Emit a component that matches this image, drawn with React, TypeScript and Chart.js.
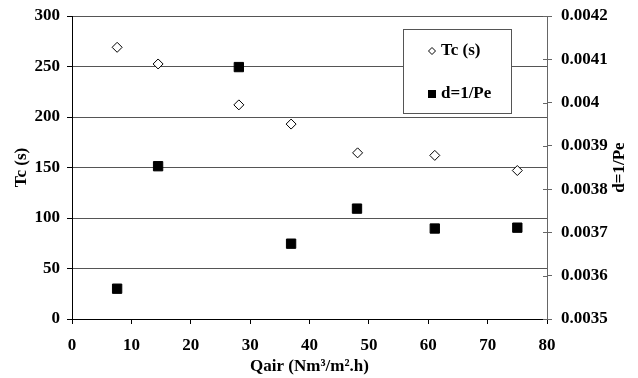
import React, { useEffect, useRef } from "react";
import { Chart, registerables } from "chart.js";

Chart.register(...registerables);

const qair = [7.6, 14.5, 28.1, 36.9, 48.1, 61.1, 75.0];
const tcValues = [269, 252.5, 212, 193, 164.5, 162, 147];
const qairD = [7.6, 14.5, 28.1, 36.9, 48.0, 61.1, 75.0];
const dValues = [0.00357, 0.003853, 0.004082, 0.003674, 0.003755, 0.003709, 0.003711];
const xTicks = [0, 10, 20, 30, 40, 50, 60, 70, 80];
const leftTicks = [0, 50, 100, 150, 200, 250, 300];
const rightTicks = [0.0035, 0.0036, 0.0037, 0.0038, 0.0039, 0.004, 0.0041, 0.0042];
const seriesNames = ["Tc (s)", "d=1/Pe"];
const xTitle = "Qair (Nm³/m².h)";
const leftTitle = "Tc (s)";
const rightTitle = "d=1/Pe";

const FONT_FAMILY = "'Liberation Serif', 'Times New Roman', serif";
const FONT_SIZE = 17;

const overlayPlugin = {
  id: "overlay",
  afterDraw(chart: any) {
    const ctx = chart.ctx;
    const area = chart.chartArea;
    const y2 = chart.scales.y2;
    ctx.save();
    // inner right ticks
    ctx.strokeStyle = "#666";
    ctx.lineWidth = 1;
    y2.ticks.forEach((t: any) => {
      const yy = Math.round(y2.getPixelForValue(t.value)) + 0.5;
      ctx.beginPath();
      ctx.moveTo(area.right - 4, yy);
      ctx.lineTo(area.right, yy);
      ctx.stroke();
    });
    // titles
    ctx.fillStyle = "#000";
    ctx.font = `bold ${FONT_SIZE}px ${FONT_FAMILY}`;
    ctx.textAlign = "center";
    ctx.textBaseline = "middle";
    const cy = (area.top + area.bottom) / 2;
    ctx.save();
    ctx.translate(22, cy);
    ctx.rotate(-Math.PI / 2);
    ctx.fillText(leftTitle, 0, 0);
    ctx.restore();
    ctx.save();
    ctx.translate(620, cy);
    ctx.rotate(-Math.PI / 2);
    ctx.fillText(rightTitle, 0, 0);
    ctx.restore();
    ctx.fillText(xTitle, (area.left + area.right) / 2, 367);

    // legend box
    const bx = 403.5, by = 29.5, bw = 108, bh = 84;
    ctx.fillStyle = "#fff";
    ctx.fillRect(bx, by, bw, bh);
    ctx.strokeStyle = "#555";
    ctx.strokeRect(bx, by, bw, bh);
    // diamond
    const dx = 432, dy = 51;
    ctx.beginPath();
    ctx.moveTo(dx - 3.5, dy);
    ctx.lineTo(dx, dy - 3.5);
    ctx.lineTo(dx + 3.5, dy);
    ctx.lineTo(dx, dy + 3.5);
    ctx.closePath();
    ctx.fillStyle = "#fff";
    ctx.fill();
    ctx.strokeStyle = "#000";
    ctx.stroke();
    // square
    ctx.fillStyle = "#000";
    ctx.fillRect(428, 90, 8, 8);
    ctx.textAlign = "left";
    ctx.fillText(seriesNames[0], 441, 51);
    ctx.fillText(seriesNames[1], 441, 94);
    ctx.restore();
  },
};

export default function App() {
  const ref = useRef<HTMLCanvasElement>(null);
  useEffect(() => {
    if (!ref.current) return;
    const font = { family: FONT_FAMILY, size: FONT_SIZE, weight: "bold" as const };
    const chart = new Chart(ref.current, {
      type: "scatter",
      data: {
        datasets: [
          {
            label: seriesNames[0],
            data: qair.map((x, i) => ({ x, y: tcValues[i] })),
            yAxisID: "y",
            pointStyle: "rectRot",
            pointRadius: 5,
            backgroundColor: "#fff",
            borderColor: "#000",
            borderWidth: 1,
          },
          {
            label: seriesNames[1],
            data: qairD.map((x, i) => ({ x, y: dValues[i] })),
            yAxisID: "y2",
            pointStyle: "rect",
            pointRadius: 6.6,
            backgroundColor: "#000",
            borderColor: "#000",
            borderWidth: 1,
          },
        ],
      },
      options: {
        responsive: false,
        animation: false,
        layout: { padding: { top: 16, left: 0, right: 0, bottom: 0 } },
        plugins: { legend: { display: false }, tooltip: { enabled: false } },
        scales: {
          x: {
            type: "linear",
            min: 0,
            max: 80,
            afterBuildTicks: (s: any) => {
              s.ticks = xTicks.map((v) => ({ value: v }));
            },
            afterFit: (s: any) => {
              s.height = 59;
              s.paddingLeft = 0;
              s.paddingRight = 0;
            },
            grid: { drawOnChartArea: false, tickLength: 5, color: "#000" },
            border: { color: "#000" },
            ticks: { font, color: "#000", padding: 11, maxRotation: 0, autoSkip: false },
          },
          y: {
            position: "left",
            min: 0,
            max: 300,
            afterBuildTicks: (s: any) => {
              s.ticks = leftTicks.map((v) => ({ value: v }));
            },
            afterFit: (s: any) => {
              s.width = 72;
              s.paddingTop = 0;
              s.paddingBottom = 0;
            },
            grid: { color: "#555", tickLength: 5, tickColor: "#000" },
            border: { color: "#000" },
            ticks: { font, color: "#000", padding: 7, autoSkip: false },
          },
          y2: {
            position: "right",
            min: 0.0035,
            max: 0.0042,
            afterBuildTicks: (s: any) => {
              s.ticks = rightTicks.map((v) => ({ value: v }));
            },
            afterFit: (s: any) => {
              s.width = 91;
              s.paddingTop = 0;
              s.paddingBottom = 0;
            },
            grid: { drawOnChartArea: false, tickLength: 5, color: "#666" },
            border: { color: "#666" },
            ticks: {
              font,
              color: "#000",
              padding: 9,
              autoSkip: false,
              callback: (v: any) => String(Number(Number(v).toFixed(4))),
            },
          },
        },
      },
      plugins: [overlayPlugin],
    });
    return () => chart.destroy();
  }, []);
  return (
    <div style={{ position: "absolute", left: 0, top: 0, width: 638, height: 378, background: "#fff" }}>
      <canvas ref={ref} width={638} height={378} style={{ display: "block" }} />
    </div>
  );
}
